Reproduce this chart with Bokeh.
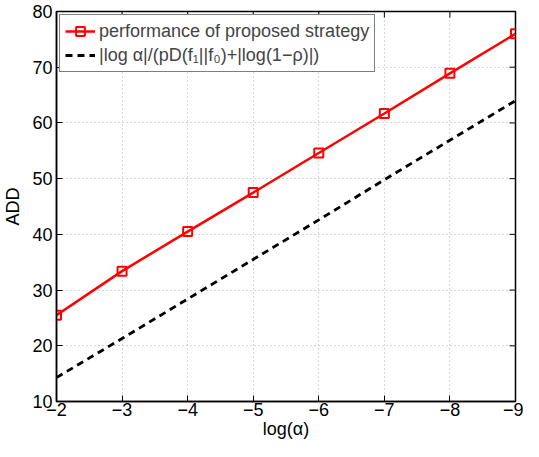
import math
from bokeh.plotting import figure
from bokeh.models import Range1d, FixedTicker, Legend, LegendItem
from bokeh.embed import file_html
from bokeh.resources import INLINE

log_alpha = [-2, -3, -4, -5, -6, -7, -8, -9]
add_proposed = [25.5, 33.4, 40.5, 47.5, 54.6, 61.7, 68.9, 76.0]
add_bound = [14.3, 21.3, 28.4, 35.5, 42.6, 49.8, 56.9, 64.0]
x_ticks = [-2, -3, -4, -5, -6, -7, -8, -9]
y_ticks = [10, 20, 30, 40, 50, 60, 70, 80]

FONT = "Liberation Sans"
X0, X1, Y0, Y1 = -2, -9, 10, 80

p = figure(width=523, height=441, output_backend="svg", toolbar_location=None,
           x_range=Range1d(X0, X1), y_range=Range1d(Y0, Y1),
           min_border_left=47, min_border_right=8, min_border_top=11, min_border_bottom=0)

p.outline_line_color = "black"
p.outline_line_width = 1.5
p.outline_line_alpha = 1.0

for ax in (p.xaxis[0], p.yaxis[0]):
    ax.major_tick_in = 6
    ax.major_tick_out = 0
    ax.minor_tick_in = 0
    ax.minor_tick_out = 0
    ax.axis_line_width = 1.5
    ax.axis_line_color = "black"
    ax.major_tick_line_color = "black"
    ax.major_label_text_font = FONT
    ax.major_label_text_font_size = "18px"
    ax.major_label_text_color = "black"
    ax.axis_label_text_font = FONT
    ax.axis_label_text_font_size = "18px"
    ax.axis_label_text_font_style = "normal"
    ax.axis_label_text_color = "black"

p.xaxis[0].ticker = FixedTicker(ticks=x_ticks)
p.yaxis[0].ticker = FixedTicker(ticks=y_ticks)
p.xaxis[0].major_label_overrides = {t: ("\u2212" + str(abs(t))) for t in x_ticks}
p.xaxis[0].axis_label = "log(\u03b1)"
p.yaxis[0].axis_label = "ADD"
p.xaxis[0].major_label_standoff = 1
p.xaxis[0].axis_label_standoff = 0
p.yaxis[0].major_label_standoff = 4
p.yaxis[0].axis_label_standoff = 6

# inward tick marks on the top and right edges (MATLAB-style box)
p.scatter(x_ticks, [Y1] * len(x_ticks), marker="dash", size=12, angle=math.pi / 2,
          line_color="black", line_width=1)
p.scatter([X1] * len(y_ticks), y_ticks, marker="dash", size=12, angle=0,
          line_color="black", line_width=1)

p.xgrid.ticker = FixedTicker(ticks=x_ticks)
p.ygrid.ticker = FixedTicker(ticks=y_ticks)
for g in (p.xgrid[0], p.ygrid[0]):
    g.grid_line_color = "#b0b0b0"
    g.grid_line_dash = "1 3"
    g.grid_line_width = 1

r_line = p.line(log_alpha, add_proposed, line_color="red", line_width=2.5)
r_marks = p.scatter(log_alpha, add_proposed, marker="square", size=9,
                    line_color="red", line_width=2, fill_color=None)
b_line = p.line(log_alpha, add_bound, line_color="black", line_width=2.8,
                line_dash="7 5")

legend = Legend(items=[
    LegendItem(label="performance of proposed strategy", renderers=[r_line, r_marks]),
    LegendItem(label="|log \u03b1|/(pD(f\u2081||f\u2080)+|log(1\u2212\u03c1)|)", renderers=[b_line]),
], location="top_left")
legend.border_line_color = "black"
legend.border_line_width = 1.2
legend.label_text_font = FONT
legend.label_text_font_size = "18px"
legend.label_height = 22
legend.glyph_height = 22
legend.margin = 3
legend.padding = 5
legend.spacing = 2
legend.glyph_width = 30
legend.label_standoff = 4
legend.background_fill_alpha = 1
p.add_layout(legend)

open("out.html", "w").write(file_html(p, INLINE))
